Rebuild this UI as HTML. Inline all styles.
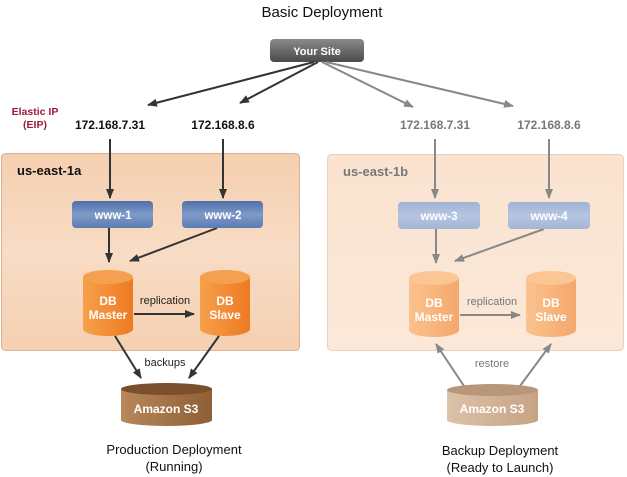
<!DOCTYPE html>
<html><head><meta charset="utf-8"><style>
body{margin:0;background:#fff}
svg{display:block;font-family:"Liberation Sans",sans-serif}
.b{font-weight:bold}
</style></head><body>
<svg width="627" height="477" viewBox="0 0 627 477" xmlns="http://www.w3.org/2000/svg">
<defs>
<linearGradient id="site" x1="0" y1="0" x2="0" y2="1"><stop offset="0" stop-color="#8a8a8a"/><stop offset="1" stop-color="#4a4a4a"/></linearGradient>
<linearGradient id="zl" x1="0" y1="0" x2="0" y2="1"><stop offset="0" stop-color="#f5cfb0"/><stop offset="0.5" stop-color="#f8dcc5"/><stop offset="1" stop-color="#f5d0b2"/></linearGradient>
<linearGradient id="zr" x1="0" y1="0" x2="0" y2="1"><stop offset="0" stop-color="#fae3d0"/><stop offset="1" stop-color="#fbe8d8"/></linearGradient>
<linearGradient id="wl" x1="0" y1="0" x2="0" y2="1"><stop offset="0" stop-color="#4f70a8"/><stop offset="0.5" stop-color="#7f9ac7"/><stop offset="1" stop-color="#5a7bb4"/></linearGradient>
<linearGradient id="wr" x1="0" y1="0" x2="0" y2="1"><stop offset="0" stop-color="#9fb2d4"/><stop offset="0.5" stop-color="#b6c5e0"/><stop offset="1" stop-color="#a4b6d6"/></linearGradient>
<linearGradient id="dl" x1="0" y1="0" x2="1" y2="0"><stop offset="0" stop-color="#f7a04a"/><stop offset="1" stop-color="#ee7a22"/></linearGradient>
<linearGradient id="dr" x1="0" y1="0" x2="1" y2="0"><stop offset="0" stop-color="#fbc28e"/><stop offset="1" stop-color="#f4a86c"/></linearGradient>
<linearGradient id="sl" x1="0" y1="0" x2="1" y2="0"><stop offset="0" stop-color="#b8885c"/><stop offset="1" stop-color="#8e5e34"/></linearGradient>
<linearGradient id="sr" x1="0" y1="0" x2="1" y2="0"><stop offset="0" stop-color="#dcc2a8"/><stop offset="1" stop-color="#c6a384"/></linearGradient>
<marker id="ad" markerWidth="10" markerHeight="8" refX="9" refY="4" orient="auto" markerUnits="userSpaceOnUse"><path d="M0,0 L10,4 L0,8 Z" fill="#333"/></marker>
<marker id="ag" markerWidth="10" markerHeight="8" refX="9" refY="4" orient="auto" markerUnits="userSpaceOnUse"><path d="M0,0 L10,4 L0,8 Z" fill="#888"/></marker>
</defs>
<text x="322" y="17" text-anchor="middle" font-size="15" fill="#111">Basic Deployment</text>
<rect x="270" y="39" width="94" height="23" rx="4" fill="url(#site)"/>
<text x="317" y="55" text-anchor="middle" font-size="11" class="b" fill="#fff">Your Site</text>
<g stroke-width="2" fill="none">
<line x1="314" y1="62" x2="148" y2="105" stroke="#333" marker-end="url(#ad)"/>
<line x1="318" y1="62" x2="240" y2="103" stroke="#333" marker-end="url(#ad)"/>
<line x1="322" y1="62" x2="413" y2="107" stroke="#888" marker-end="url(#ag)"/>
<line x1="326" y1="62" x2="513" y2="106" stroke="#888" marker-end="url(#ag)"/>
</g>
<text x="35" y="115" text-anchor="middle" font-size="10.5" class="b" fill="#9b1b3a">Elastic IP</text>
<text x="35" y="128" text-anchor="middle" font-size="10.5" class="b" fill="#9b1b3a">(EIP)</text>
<text x="110" y="129" text-anchor="middle" font-size="12" class="b" fill="#111">172.168.7.31</text>
<text x="223" y="129" text-anchor="middle" font-size="12" class="b" fill="#111">172.168.8.6</text>
<text x="435" y="129" text-anchor="middle" font-size="12" class="b" fill="#777">172.168.7.31</text>
<text x="549" y="129" text-anchor="middle" font-size="12" class="b" fill="#777">172.168.8.6</text>
<rect x="1.5" y="153.5" width="298" height="197" rx="4" fill="url(#zl)" stroke="#dcb18f"/>
<rect x="327.5" y="154.5" width="296" height="196" rx="4" fill="url(#zr)" stroke="#ecd0ba"/>
<text x="17" y="175" font-size="13" class="b" fill="#111">us-east-1a</text>
<text x="343" y="176" font-size="13" class="b" fill="#777">us-east-1b</text>
<g stroke-width="2" fill="none">
<line x1="110" y1="139" x2="110" y2="198" stroke="#333" marker-end="url(#ad)"/>
<line x1="223" y1="139" x2="223" y2="198" stroke="#333" marker-end="url(#ad)"/>
<line x1="435" y1="139" x2="435" y2="198" stroke="#888" marker-end="url(#ag)"/>
<line x1="549" y1="139" x2="549" y2="198" stroke="#888" marker-end="url(#ag)"/>
<line x1="109" y1="228" x2="109" y2="262" stroke="#333" marker-end="url(#ad)"/>
<line x1="217" y1="228" x2="130" y2="261" stroke="#333" marker-end="url(#ad)"/>
<line x1="436" y1="229" x2="436" y2="263" stroke="#888" marker-end="url(#ag)"/>
<line x1="544" y1="229" x2="455" y2="261" stroke="#888" marker-end="url(#ag)"/>
</g>
<rect x="72" y="201" width="81" height="27" rx="4" fill="url(#wl)"/>
<rect x="182" y="201" width="81" height="27" rx="4" fill="url(#wl)"/>
<rect x="398" y="202" width="82" height="27" rx="4" fill="url(#wr)"/>
<rect x="508" y="202" width="82" height="27" rx="4" fill="url(#wr)"/>
<g font-size="11.5" class="b" fill="#fff" text-anchor="middle">
<text x="113" y="219">www-1</text><text x="223" y="219">www-2</text>
<text x="439" y="220">www-3</text><text x="549" y="220">www-4</text>
</g>
<!-- DBs -->
<g>
<path d="M83,277 v52 a25,7 0 0 0 50,0 v-52 Z" fill="url(#dl)"/><ellipse cx="108" cy="277" rx="25" ry="7" fill="#f5a050"/>
<path d="M200,277 v52 a25,7 0 0 0 50,0 v-52 Z" fill="url(#dl)"/><ellipse cx="225" cy="277" rx="25" ry="7" fill="#f5a050"/>
<path d="M409,278 v52 a25,7 0 0 0 50,0 v-52 Z" fill="url(#dr)"/><ellipse cx="434" cy="278" rx="25" ry="7" fill="#fbc594"/>
<path d="M526,278 v52 a25,7 0 0 0 50,0 v-52 Z" fill="url(#dr)"/><ellipse cx="551" cy="278" rx="25" ry="7" fill="#fbc594"/>
</g>
<g font-size="12" class="b" fill="#fff" text-anchor="middle">
<text x="108" y="305">DB</text><text x="108" y="319">Master</text>
<text x="225" y="305">DB</text><text x="225" y="319">Slave</text>
<text x="434" y="307">DB</text><text x="434" y="321">Master</text>
<text x="551" y="307">DB</text><text x="551" y="321">Slave</text>
</g>
<g stroke-width="2" fill="none">
<line x1="134" y1="314" x2="194" y2="314" stroke="#333" marker-end="url(#ad)"/>
<line x1="460" y1="315" x2="520" y2="315" stroke="#888" marker-end="url(#ag)"/>
<line x1="115" y1="336" x2="141" y2="378" stroke="#333" marker-end="url(#ad)"/>
<line x1="219" y1="336" x2="189" y2="378" stroke="#333" marker-end="url(#ad)"/>
<line x1="464" y1="386" x2="436" y2="344" stroke="#888" marker-end="url(#ag)"/>
<line x1="520" y1="386" x2="551" y2="344" stroke="#888" marker-end="url(#ag)"/>
</g>
<g font-size="11" text-anchor="middle">
<text x="165" y="304" fill="#222">replication</text>
<text x="492" y="305" fill="#777">replication</text>
<text x="165" y="366" fill="#222">backups</text>
<text x="492" y="367" fill="#777">restore</text>
</g>
<path d="M121,389 v31 a45.5,6 0 0 0 91,0 v-31 Z" fill="url(#sl)"/><ellipse cx="166.5" cy="389" rx="45.5" ry="6" fill="#7a4f2c"/>
<path d="M447,390 v30 a45.5,6 0 0 0 91,0 v-30 Z" fill="url(#sr)"/><ellipse cx="492.5" cy="390" rx="45.5" ry="6" fill="#b8967a"/>
<text x="166" y="413" text-anchor="middle" font-size="12" class="b" fill="#fff">Amazon S3</text>
<text x="492" y="413" text-anchor="middle" font-size="12" class="b" fill="#fff">Amazon S3</text>
<g font-size="13" fill="#111" text-anchor="middle">
<text x="174" y="454">Production Deployment</text><text x="174" y="471">(Running)</text>
<text x="500" y="455">Backup Deployment</text><text x="500" y="472">(Ready to Launch)</text>
</g>
</svg>
</body></html>
